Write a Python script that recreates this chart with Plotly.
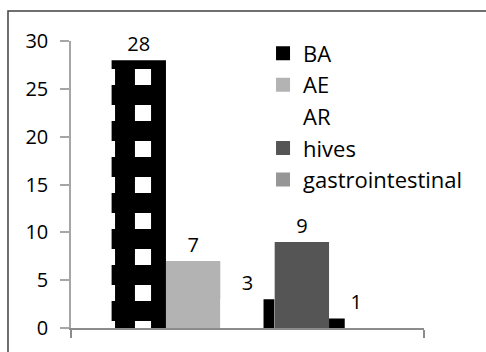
import plotly.graph_objects as go

# Reaction counts, one group of bars
category = ["Reactions"]
series_names = ["BA", "AE", "AR", "hives", "gastrointestinal"]
series_values = [28, 7, 3, 9, 1]
y_ticks = [0, 5, 10, 15, 20, 25, 30]

# Bar fill styles per series
bar_styles = {
    "BA": dict(color="white", pattern=dict(shape="+", fgcolor="black", bgcolor="white",
                                            size=36, solidity=0.80, fillmode="replace")),
    "AE": dict(color="#b3b3b3"),
    "AR": dict(color="white", pattern=dict(shape="|", fgcolor="black", bgcolor="white",
                                            size=132, solidity=0.083, fillmode="replace")),
    "hives": dict(color="#555555"),
    "gastrointestinal": dict(color="white", pattern=dict(shape="|", fgcolor="black", bgcolor="white",
                                                         size=177, solidity=0.093, fillmode="replace")),
}
# Legend swatch colours
legend_colors = {
    "BA": "black",
    "AE": "#b3b3b3",
    "AR": "rgba(0,0,0,0)",
    "hives": "#555555",
    "gastrointestinal": "#969696",
}

FONT = "Open Sans, Lato, Arial, sans-serif"

fig = go.Figure()
for name, val in zip(series_names, series_values):
    fig.add_trace(go.Bar(
        x=category, y=[val], name=name, showlegend=False,
        marker=dict(line=dict(width=0), **bar_styles[name]),
        text=[str(val)], textposition="outside", cliponaxis=False,
        textfont=dict(size=20, color="black", family=FONT),
    ))

for name in series_names:
    fig.add_trace(go.Scatter(
        x=[None], y=[None], mode="markers", name=name, legendgroup=name,
        marker=dict(symbol="square", size=14, color=legend_colors[name], line=dict(width=0)),
    ))

# Chart-area frame
fig.add_shape(type="rect", xref="paper", yref="paper",
              x0=-0.1785, x1=1.6, y0=-0.5, y1=1.1045,
              line=dict(color="#404040", width=1.5), fillcolor="rgba(0,0,0,0)", layer="below")

fig.update_layout(
    width=486, height=352,
    margin=dict(l=71, r=62, t=41, b=24),
    paper_bgcolor="white", plot_bgcolor="white",
    barmode="group", bargap=0.23, bargroupgap=0,
    font=dict(family=FONT, size=20, color="black"),
    showlegend=True,
    legend=dict(x=0.544, y=1.03, xanchor="left", yanchor="top",
                bgcolor="rgba(0,0,0,0)", borderwidth=0,
                font=dict(size=22, color="black", family=FONT),
                traceorder="grouped", tracegroupgap=0, itemsizing="trace"),
    xaxis=dict(showticklabels=False, showgrid=False, zeroline=False,
               showline=True, linecolor="#8c8c8c", linewidth=1.5,
               ticks="outside", tickson="boundaries", ticklen=8,
               tickcolor="#8c8c8c", tickwidth=1.5),
    yaxis=dict(range=[0, 30], tickvals=y_ticks, showgrid=False, zeroline=False,
               showline=True, linecolor="#a6a6a6", linewidth=1.5,
               ticks="outside", ticklen=9, tickcolor="#a6a6a6", tickwidth=1.5,
               ticklabelstandoff=8,
               tickfont=dict(size=20, color="black", family=FONT)),
)

fig.write_html("out.html")
